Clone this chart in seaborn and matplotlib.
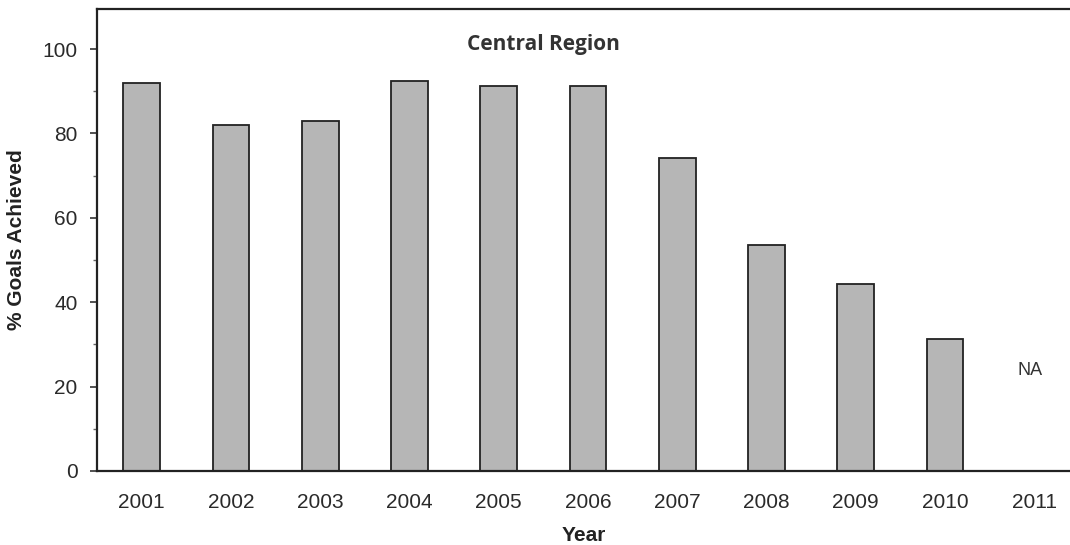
import matplotlib
matplotlib.use("Agg")
import matplotlib.pyplot as plt
import seaborn as sns
import pandas as pd
import numpy as np
from matplotlib.ticker import MultipleLocator, FixedLocator

years = ["2001", "2002", "2003", "2004", "2005", "2006", "2007", "2008", "2009", "2010", "2011"]
goals_pct = [92, 82, 83, 92.4, 91.3, 91.3, 74.2, 53.6, 44.4, 31.4, np.nan]
na_label = "NA"

df = pd.DataFrame({"Year": years, "Goals": goals_pct})

sns.set_theme(style="white")
plt.rcParams["font.family"] = ["Liberation Sans", "DejaVu Sans"]

fig = plt.figure(figsize=(10.7, 5.45), dpi=100)
ax = fig.add_axes([0.0907, 0.1358, 0.9093, 0.8477])

sns.barplot(data=df, x="Year", y="Goals", order=years, color="#b6b6b6",
            saturation=1, width=0.41, edgecolor="#222222", linewidth=1.3, ax=ax)

ax.set_xlim(-0.5, 10.4)
ax.set_ylim(0, 109.5)

# year labels under bar centres, tick marks on category boundaries
ax.set_xticks(range(len(years)))
ax.set_xticklabels(years, fontsize=15, color="#2a2a2a")
ax.tick_params(axis="x", which="major", length=0, pad=16)
ax.xaxis.set_minor_locator(FixedLocator(np.arange(-0.5, len(years), 1.0)))
ax.tick_params(axis="x", which="minor", direction="out", length=4, width=1, color="#444444")

ax.yaxis.set_major_locator(MultipleLocator(20))
ax.yaxis.set_minor_locator(MultipleLocator(10))
ax.tick_params(axis="y", which="major", direction="out", length=5, width=1.2,
               color="#333333", labelsize=15, labelcolor="#2a2a2a", pad=9, left=True)
ax.tick_params(axis="y", which="minor", direction="out", length=3, width=1, color="#666666", left=True)

for side in ["left", "bottom", "top"]:
    ax.spines[side].set_visible(True)
    ax.spines[side].set_color("#222222")
    ax.spines[side].set_linewidth(1.6)
ax.spines["right"].set_visible(False)

ax.set_ylabel("% Goals Achieved", fontsize=15, fontweight="bold", color="#222222", labelpad=12)
ax.set_xlabel("Year", fontsize=15, fontweight="bold", color="#222222", labelpad=10)

ax.text(4.5, 101, "Central Region", ha="center", va="center", fontsize=15,
        fontweight="bold", color="#333333", family=["Open Sans", "DejaVu Sans"])
ax.text(9.95, 23.7, na_label, ha="center", va="center", fontsize=13, color="#333333")

fig.savefig("out.png", dpi=100)
